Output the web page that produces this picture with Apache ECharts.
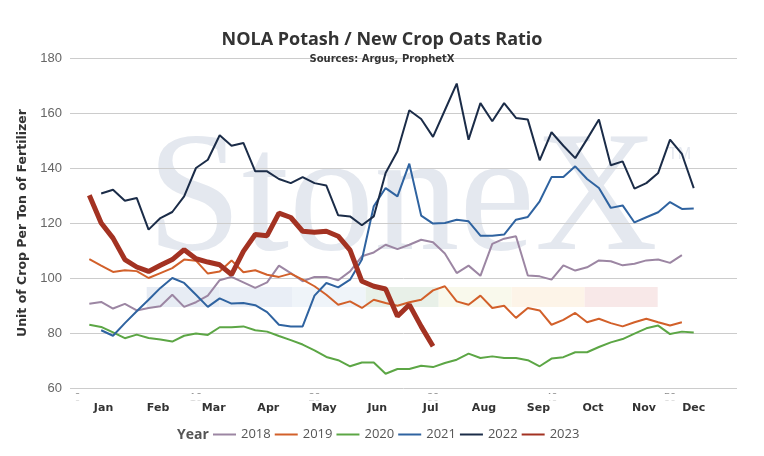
<!DOCTYPE html>
<html>
<head>
<meta charset="utf-8">
<script src="https://cdn.jsdelivr.net/npm/echarts@6/dist/echarts.min.js"></script>
<style>
  html, body { margin: 0; padding: 0; background: #fff; }
  #chart { width: 764px; height: 456px; }
</style>
</head>
<body>
<div id="chart"></div>
<script>
// weekly ratio, x = week of year
const years = ["2018", "2019", "2020", "2021", "2022", "2023"];
const startWeek = [1, 1, 1, 2, 2, 1];

const y2018 = [90.6, 91.3, 88.9, 90.6, 88.2, 89.1, 89.7, 93.9, 89.5, 91.2, 93.6, 99.2, 100.4, 98.4, 96.4, 98.4, 104.5,
  101.8, 98.8, 100.4, 100.4, 99.2, 102.4, 107.9, 109.3, 112.1, 110.5, 112.1, 113.9, 113.0, 108.9, 101.8, 104.5, 100.8,
  112.4, 114.3, 115.2, 100.9, 100.6, 99.4, 104.6, 102.7, 103.9, 106.4, 106.1, 104.6, 105.2, 106.4, 106.7, 105.5, 108.3];
const y2019 = [106.9, 104.5, 102.2, 102.8, 102.5, 100.0, 101.8, 103.6, 106.7, 106.3, 101.6, 102.4, 106.4, 102.1, 102.8,
  101.2, 100.4, 101.6, 99.4, 97.0, 93.9, 90.3, 91.5, 89.1, 92.1, 90.9, 89.9, 91.2, 92.1, 95.5, 97.0, 91.5, 90.3, 93.6,
  89.1, 89.9, 85.5, 89.1, 88.2, 83.0, 84.8, 87.3, 83.9, 85.2, 83.6, 82.4, 83.9, 85.2, 83.9, 82.7, 83.9];
const y2020 = [83.0, 82.2, 80.2, 78.1, 79.4, 78.2, 77.6, 76.9, 79.0, 79.8, 79.3, 82.1, 82.1, 82.4, 81.0, 80.5, 78.9, 77.4,
  75.8, 73.7, 71.3, 70.1, 67.9, 69.3, 69.3, 65.2, 66.9, 66.9, 68.1, 67.6, 69.1, 70.3, 72.5, 70.9, 71.5,
  70.9, 70.9, 70.1, 67.9, 70.7, 71.2, 73.0, 73.0, 74.9, 76.6, 77.8, 79.8, 81.7, 82.7, 79.6, 80.5, 80.2];
const y2021 = [81.0, 79.0, 83.6, 87.9, 92.1, 96.4, 100.0, 98.2, 93.9, 89.5, 92.6, 90.7, 90.9, 90.1, 87.6, 83.0, 82.4,
  82.4, 93.6, 98.2, 96.6, 99.4, 106.7, 126.1, 132.7, 129.7, 141.6, 122.7, 119.8, 120.0, 121.2, 120.6, 115.4, 115.4,
  115.8, 121.2, 122.2, 127.9, 136.7, 136.7, 140.6, 136.0, 132.7, 125.5, 126.4, 120.2, 122.1, 123.9, 127.6, 125.1, 125.3];
const y2022 = [130.7, 132.1, 128.1, 129.1, 117.6, 121.8, 124.0, 129.7, 140.0, 143.0, 151.9, 148.1, 149.1, 138.8, 138.8,
  136.0, 134.5, 136.7, 134.5, 133.6, 122.8, 122.4, 119.2, 122.4, 138.2, 146.1, 161.0, 157.8, 151.3, 161.0, 170.7, 150.3,
  163.6, 157.0, 163.6, 158.2, 157.6, 142.8, 153.0, 148.1, 143.6, 150.5, 157.6, 141.0, 142.4, 132.5, 134.5, 138.2, 150.3,
  145.1, 132.7];
const y2023 = [130.1, 120.0, 114.5, 106.7, 104.0, 102.4, 104.6, 106.7, 110.3, 107.0, 105.8, 104.8, 101.2, 109.7, 115.8,
  115.4, 123.6, 122.0, 117.0, 116.6, 117.0, 115.2, 110.1, 98.8, 97.0, 96.0, 86.1, 90.3, 82.4, 75.2];

const weekTicks = [0, 10, 20, 30, 40, 50];
const monthLabels = ["Jan", "Feb", "Mar", "Apr", "May", "Jun", "Jul", "Aug", "Sep", "Oct", "Nov", "Dec"];
const monthPos = [2.2, 6.8, 11.5, 16.1, 20.8, 25.3, 29.8, 34.3, 38.9, 43.5, 47.8, 52.0];

const values = [y2018, y2019, y2020, y2021, y2022, y2023];
const colors = ["#9c86a3", "#d2602a", "#5ca645", "#2f63a0", "#1b2c48", "#a33222"];
const bandColors = ["#e7ecf4", "#e9eef6", "#eff4f9", "#e8f0e8", "#f9f9ec", "#fdf4e8", "#f8e8e8"];

const xMin = -0.63, xMax = 55.65;

const series = years.map((name, k) => ({
  name: name,
  type: "line",
  data: values[k].map((v, i) => [startWeek[k] + i, v]),
  symbol: "none",
  z: k === 5 ? 5 : 2,
  lineStyle: { width: k === 5 ? 5 : 2, color: colors[k] },
  itemStyle: { color: colors[k] }
}));

// watermark
const graphics = [{
  type: "text", x: 147, y: 204, z: -10, silent: true, scaleX: 0.99,
  style: { text: "StoneX", font: '172px "Liberation Serif"', fill: "#e4e8ef", verticalAlign: "middle" }
}, {
  type: "text", x: 668, y: 155, z: -10, silent: true,
  style: { text: "TM", font: '16px "Liberation Sans"', fill: "#e4e8ef", verticalAlign: "middle" }
}];
bandColors.forEach((c, i) => {
  graphics.push({
    type: "rect", z: -10, silent: true,
    shape: { x: 146.7 + i * 73, y: 287, width: 73, height: 20 },
    style: { fill: c }
  });
});
// hides the week numbers under the month row
graphics.push({
  type: "rect", z: 100, silent: true,
  shape: { x: 60, y: 393.8, width: 690, height: 7 },
  style: { fill: "#fff" }
});
graphics.push({
  type: "text", x: 177, y: 435, z: 100, silent: true,
  style: { text: "Year", font: 'bold 14px "Open Sans"', fill: "#555", verticalAlign: "middle" }
});

const chart = echarts.init(document.getElementById("chart"));
chart.setOption({
  animation: false,
  color: colors,
  title: [{
    text: "NOLA Potash / New Crop Oats Ratio",
    left: "center", top: 26,
    textStyle: { fontFamily: "Open Sans", fontSize: 18, fontWeight: "bold", color: "#333" }
  }, {
    text: "Sources: Argus, ProphetX",
    left: "center", top: 49,
    textStyle: { fontFamily: "DejaVu Sans", fontSize: 10, fontWeight: "bold", color: "#333" }
  }],
  grid: { left: 70, right: 27, top: 58, bottom: 68 },
  legend: {
    data: years,
    left: 213, top: 428, padding: 0,
    icon: "rect", itemWidth: 23, itemHeight: 2, itemGap: 4,
    textStyle: { fontFamily: "Open Sans", fontSize: 13, color: "#555" }
  },
  graphic: graphics,
  xAxis: [{
    type: "value", min: xMin, max: xMax, position: "bottom",
    axisLine: { show: false }, axisTick: { show: false }, splitLine: { show: false },
    axisLabel: { customValues: weekTicks, fontSize: 11, color: "#666", margin: 4 }
  }, {
    type: "value", min: xMin, max: xMax, position: "bottom",
    axisLine: { show: false }, axisTick: { show: false }, splitLine: { show: false },
    axisLabel: {
      customValues: monthPos,
      formatter: (v) => monthLabels[monthPos.indexOf(v)],
      fontFamily: "DejaVu Sans", fontWeight: "bold", fontSize: 11, color: "#333", margin: 15
    }
  }],
  yAxis: {
    type: "value", min: 60, max: 180, interval: 20,
    name: "Unit of Crop Per Ton of Fertilizer",
    nameLocation: "middle", nameRotate: 90, nameGap: 29,
    nameTextStyle: { fontFamily: "DejaVu Sans", fontWeight: "bold", fontSize: 12.5, color: "#333" },
    axisLine: { show: false }, axisTick: { show: false },
    splitLine: { lineStyle: { color: "#ccc", width: 1 } },
    axisLabel: { fontFamily: "Liberation Sans", fontSize: 13, color: "#666", margin: 8 }
  },
  series: series
});
</script>
</body>
</html>
